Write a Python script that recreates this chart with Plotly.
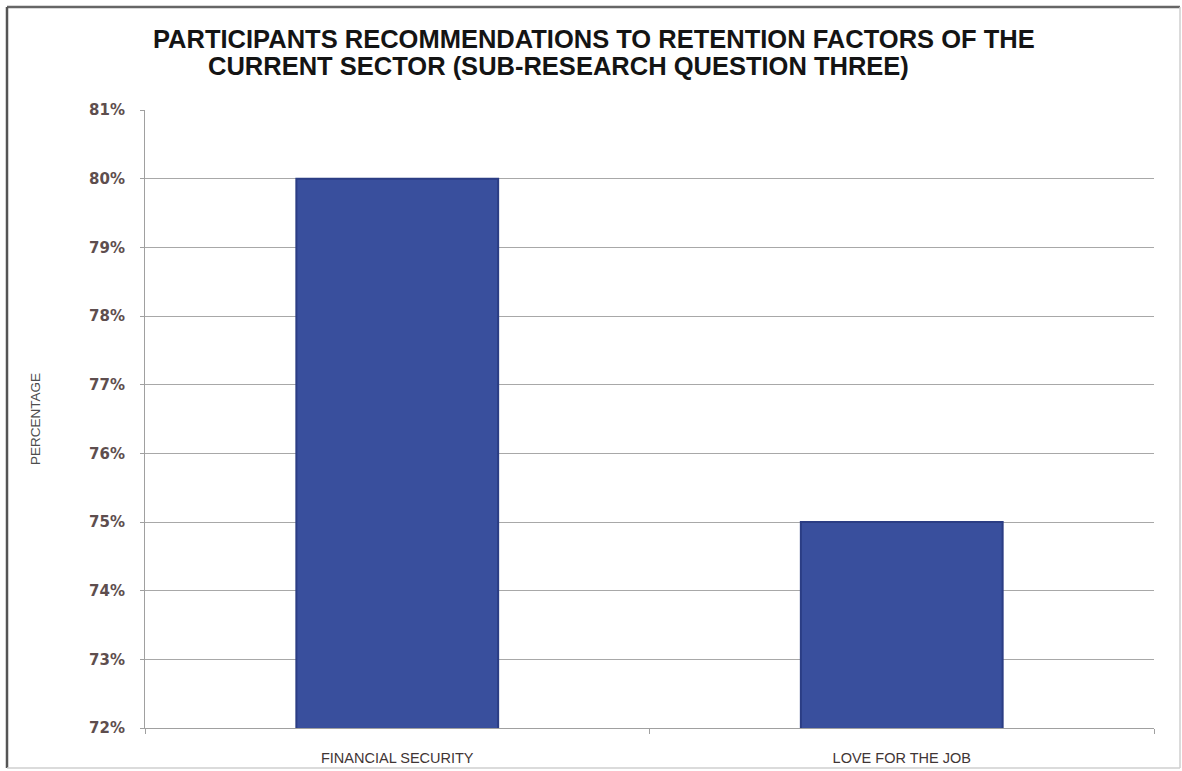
import plotly.graph_objects as go

categories = ["FINANCIAL SECURITY", "LOVE FOR THE JOB"]
values = [0.80, 0.75]
tick_vals = [0.72, 0.73, 0.74, 0.75, 0.76, 0.77, 0.78, 0.79, 0.80, 0.81]
title_lines = ["PARTICIPANTS RECOMMENDATIONS TO RETENTION FACTORS OF THE",
               "CURRENT SECTOR (SUB-RESEARCH QUESTION THREE)"]

W, H = 1182, 771
ml, mr, mt, mb = 145, 28, 110, 43
PW, PH = W - ml - mr, H - mt - mb

def px(x):
    return (x - ml) / PW

def py(y):
    return 1 - (y - mt) / PH

fig = go.Figure()
fig.add_trace(go.Bar(
    x=categories, y=values,
    marker=dict(color="#394f9d", line=dict(color="#2b3d84", width=2)),
    width=0.4,
))

fig.update_layout(
    width=W, height=H,
    margin=dict(l=ml, r=mr, t=mt, b=mb),
    paper_bgcolor="white", plot_bgcolor="white",
    showlegend=False,
    font=dict(family="Liberation Sans"),
)

title_font = dict(family="Liberation Sans", size=25.5, color="#141414", weight="bold")
fig.add_annotation(text=title_lines[0], xref="paper", yref="paper",
                   x=px(594), y=py(39), xanchor="center", yanchor="middle",
                   showarrow=False, font=title_font)
fig.add_annotation(text=title_lines[1], xref="paper", yref="paper",
                   x=px(558), y=py(66), xanchor="center", yanchor="middle",
                   showarrow=False, font=title_font)

fig.update_yaxes(
    range=[0.72, 0.81], tickvals=tick_vals, tickformat=".0%",
    showgrid=True, gridcolor="#a8a8a8", gridwidth=1,
    showline=True, linecolor="#a0a0a0", linewidth=1,
    ticks="outside", ticklen=4, tickcolor="#a0a0a0",
    ticklabelstandoff=12, automargin=False,
    tickfont=dict(family="DejaVu Sans", size=15, color="#5e4e4e", weight="bold"),
    zeroline=False,
)
fig.add_annotation(text="PERCENTAGE", xref="paper", yref="paper",
                   x=px(35), y=py(419), xanchor="center", yanchor="middle",
                   textangle=-90, showarrow=False,
                   font=dict(family="Liberation Sans", size=13.5, color="#4d4d4d"))

fig.update_xaxes(
    showline=True, linecolor="#a0a0a0", linewidth=1,
    tickfont=dict(family="Liberation Sans", size=14.5, color="#3f3535"),
    ticks="outside", ticklen=5, tickcolor="#a0a0a0",
    tickson="boundaries", ticklabelstandoff=17, automargin=False,
)

# outer frame
frame = [
    (7, 7, 1180, 7, "#666666", 2.5),
    (7, 7, 7, 768, "#555555", 2.5),
    (1180, 7, 1180, 768, "#cfcfcf", 1.5),
    (7, 768, 1180, 768, "#cfcfcf", 1.5),
]
for x0, y0, x1, y1, c, w in frame:
    fig.add_shape(type="line", xref="paper", yref="paper",
                  x0=px(x0), y0=py(y0), x1=px(x1), y1=py(y1),
                  line=dict(color=c, width=w), layer="below")

fig.write_html("out.html")
